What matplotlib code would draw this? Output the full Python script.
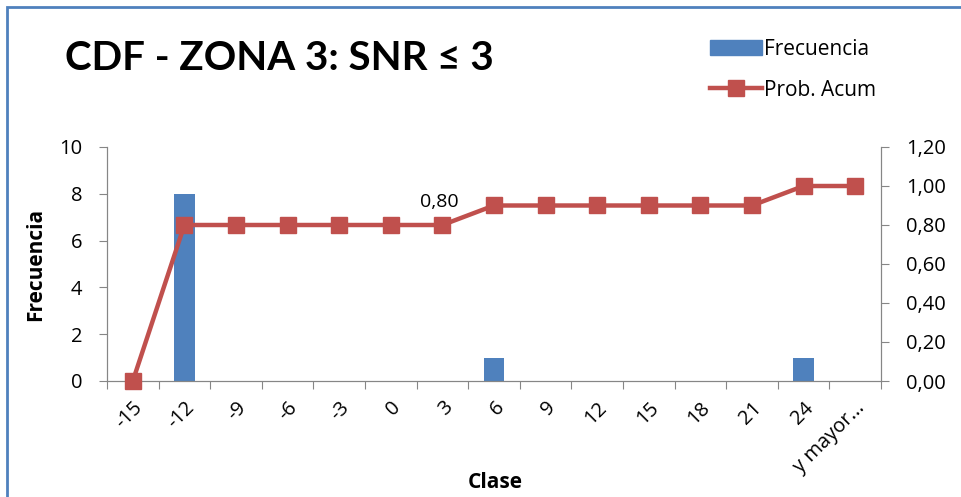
import matplotlib.pyplot as plt
import matplotlib.patches as mpatches
from matplotlib.lines import Line2D
import numpy as np

clases = ['-15', '-12', '-9', '-6', '-3', '0', '3', '6', '9', '12', '15',
          '18', '21', '24', 'y mayor...']
frecuencia = [0, 8, 0, 0, 0, 0, 0, 1, 0, 0, 0, 0, 0, 1, 0]
prob_acum = [0.0, 0.8, 0.8, 0.8, 0.8, 0.8, 0.8, 0.9, 0.9, 0.9, 0.9,
             0.9, 0.9, 1.0, 1.0]

blue = '#4F81BD'
red = '#C0504D'
axis_grey = '#868686'

plt.rcParams['font.family'] = ['Open Sans', 'DejaVu Sans']

fig = plt.figure(figsize=(9.62, 4.97), dpi=100)
ax = fig.add_axes([107 / 962, 1 - 381 / 497, (881 - 107) / 962, (381 - 147) / 497])
ax2 = ax.twinx()

x = np.arange(len(clases))
ax.bar(x, frecuencia, width=0.4, color=blue, zorder=2)
ax2.plot(x, prob_acum, color=red, lw=3.2, marker='s', markersize=12,
         zorder=3, clip_on=False)
ax2.annotate('0,80', (6, prob_acum[6]), xytext=(-2, 10),
             textcoords='offset points', ha='center', va='bottom', fontsize=14)

ax.set_xlim(-0.5, len(clases) - 0.5)
ax.set_ylim(0, 10)
ax2.set_ylim(0, 1.2)
ax.set_yticks(np.arange(0, 11, 2))
right_ticks = np.arange(0, 1.21, 0.2)
ax2.set_yticks(right_ticks)
ax2.set_yticklabels([('%.2f' % v).replace('.', ',') for v in right_ticks])

# category boundaries as ticks, labels in the middle
ax.set_xticks(np.arange(-0.5, len(clases), 1))
ax.set_xticklabels([])
ax.set_xticks(x, minor=True)
ax.set_xticklabels(clases, minor=True, rotation=45, ha='right',
                   rotation_mode='anchor', fontsize=14.5)
ax.tick_params(axis='x', which='minor', length=0, pad=12)
ax.tick_params(axis='x', which='major', length=6, color=axis_grey)
ax.tick_params(axis='y', length=6, color=axis_grey, labelsize=14.5, pad=12)
ax2.tick_params(axis='y', length=6, color=axis_grey, labelsize=14.5, pad=12)

for a in (ax, ax2):
    a.spines['top'].set_visible(False)
    for s in ('left', 'right', 'bottom'):
        a.spines[s].set_color(axis_grey)

ax.set_ylabel('Frecuencia', fontsize=15, fontweight='bold', labelpad=9)
fig.text(495 / 962, 1 - 482 / 497, 'Clase', fontsize=15, fontweight='bold',
         ha='center', va='center')

fig.text(65 / 962, 1 - 58 / 497, 'CDF - ZONA 3: SNR ≤ 3', fontsize=29,
         fontweight='bold', va='center', ha='left',
         family=['Lato', 'DejaVu Sans'])

handles = [mpatches.Patch(color=blue),
           Line2D([], [], color=red, lw=3.2, marker='s', markersize=12)]
fig.legend(handles, ['Frecuencia', 'Prob. Acum'], loc='upper left',
           bbox_to_anchor=(691 / 962, 1 - 20 / 497), frameon=False,
           fontsize=15, handlelength=2.5, handletextpad=0.1, labelspacing=0.95)

# outer chart frame
fig.add_artist(plt.Rectangle((7 / 962, -0.1), 1.2, 1 - 7 / 497 + 0.1,
                             transform=fig.transFigure, fill=False,
                             edgecolor=blue, lw=2))

fig.savefig('out.png', dpi=100)
